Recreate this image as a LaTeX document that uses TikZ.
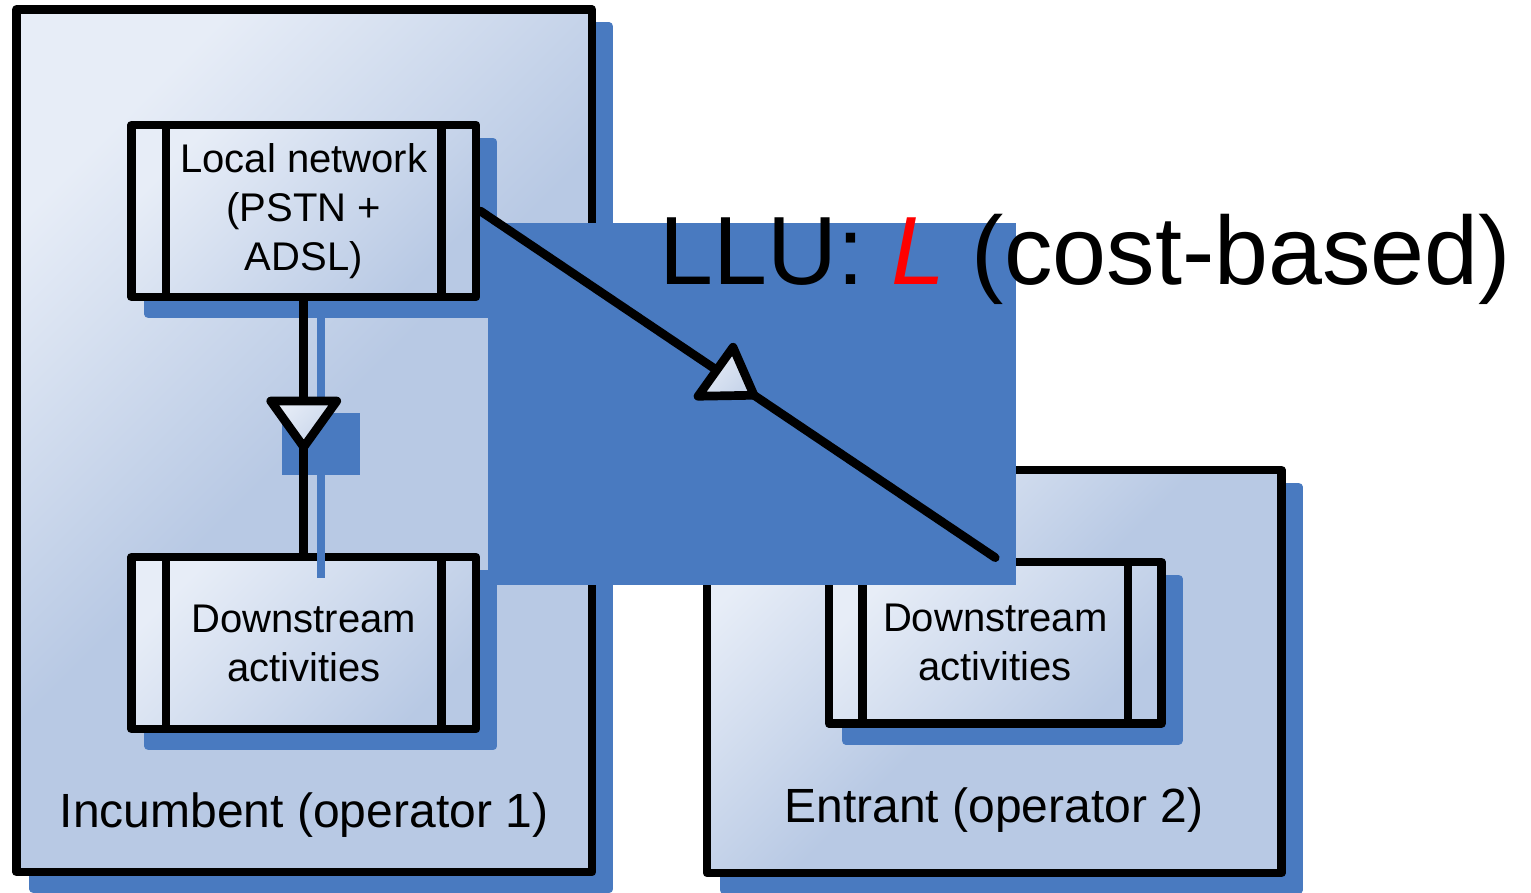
\documentclass[tikz,border=0pt]{standalone}
\usepackage{fontspec}
\setmainfont{Liberation Sans}
\usetikzlibrary{calc,shadows}
\definecolor{shadowblue}{RGB}{73,122,192}
\definecolor{paneltop}{RGB}{231,237,247}
\definecolor{panelbottom}{RGB}{184,201,228}
\tikzset{
  outline/.style={draw=black, line width=8.7pt, line join=round},
  boxshadow/.style={general shadow={fill=shadowblue, draw=shadowblue, line width=8.7pt,
      shadow xshift=17pt, shadow yshift=-17pt}},
  operatorbox/.style={outline, boxshadow, top color=paneltop, bottom color=panelbottom,
      middle color=panelbottom, shading angle=45, inner sep=0pt},
  procbox/.style={outline, boxshadow, top color=paneltop, bottom color=panelbottom,
      shading angle=45, align=center, font=\fontsize{40}{49}\selectfont, inner sep=0pt,
      path picture={
        \draw[line width=8.7pt] ([xshift=#1]path picture bounding box.north west)
          -- ([xshift=#1]path picture bounding box.south west);
        \draw[line width=8.7pt] ([xshift=-#1]path picture bounding box.north east)
          -- ([xshift=-#1]path picture bounding box.south east);
      }},
  link/.style={draw=black, line width=8.7pt, line cap=round, line join=round},
  tip/.style={draw=black, line width=8.7pt, line join=round,
      top color=paneltop, bottom color=panelbottom!70!paneltop, shading angle=45},
  linkshadow/.style={draw=shadowblue, line width=8pt},
  caption/.style={font=\fontsize{48}{58}\selectfont, inner sep=0pt, anchor=base},
}
\begin{document}
\begin{tikzpicture}[x=1pt,y=-1pt]
\useasboundingbox (0,0) rectangle (1531,892);

% operator boxes
\node[operatorbox, minimum width=575.5pt, minimum height=862.5pt] (inc) at (304.25,440.75) {};
\node[operatorbox, minimum width=574.5pt, minimum height=403pt] (ent) at (994.25,671.5) {};
\node[caption] (inclabel) at (304,827) {Incumbent (operator 1)};
\node[caption] (entlabel) at (994,822) {Entrant (operator 2)};

% activity blocks
\node[procbox=34.5pt, minimum width=344.5pt, minimum height=172pt] (ln) at (303.75,211)
  {Local network\\(PSTN +\\ADSL)};
\node[procbox=34.5pt, minimum width=344.5pt, minimum height=172pt] (dl) at (303.75,643)
  {Downstream\\activities};
\node[procbox=33.5pt, minimum width=332.5pt, minimum height=161.5pt] (dr) at (995.25,642.75)
  {Downstream\\activities};

% internal supply: local network -> downstream
\coordinate (m1) at ($(ln.south)!0.3966!(dl.north)$);
\draw[linkshadow] ($(ln.south)+(17,9)$) -- ($(dl.north)+(17,25)$);
\fill[shadowblue] ($(m1)+(-22,12)$) rectangle ($(m1)+(56,74)$);
\draw[link] (ln.south) -- (dl.north);
\draw[tip] ($(m1)+(-33,0)$) -- ($(m1)+(33,0)$) -- ($(m1)+(0,46)$) -- cycle;

% unbundled access: local network -> entrant
\coordinate (m2) at ($(ln.east)!0.5315!(dr.north)$);
\fill[shadowblue] ($(ln.east)+(8,12)$) rectangle ($(dr.north)+(21,27)$);
\draw[link] (ln.east) -- (dr.north);
\draw[tip] (m2) -- ($(m2)+(-56,1)$) -- ($(m2)+(-21,-48)$) -- cycle;

% access price
\node[anchor=base west, inner sep=0pt, font=\fontsize{97}{116}\selectfont] (llu) at (659,284)
  {LLU: \textcolor{red}{\itshape L} (cost-based)};
\end{tikzpicture}
\end{document}
